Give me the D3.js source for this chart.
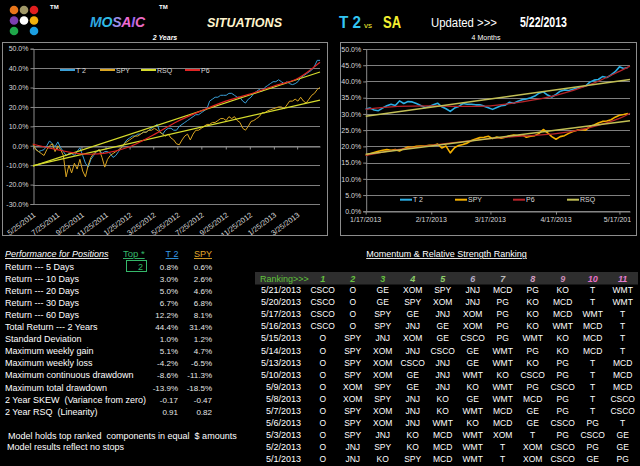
<!DOCTYPE html>
<html>
<head>
<meta charset="utf-8">
<script src="https://cdn.jsdelivr.net/npm/d3@7"></script>
<style>
  body { margin: 0; background: #000; }
  svg { display: block; font-family: "Liberation Sans", Arial, sans-serif; }
  text { white-space: pre; }
</style>
</head>
<body>
<svg id="viz" width="640" height="466"></svg>
<script>
// ---- 2 year chart : weekly readings starting 5/25/2011 (percent)
const start2y = '5/25/2011'
const end2y = '5/22/2013'
const t2Weekly = [0,-1.5,-3,-2.5,-2,0,2.5,1,-0.5,2,
  -1,-3,-5,-4,-4,-5,-3,-1,-5,-9,
  -11,-7,-5,-3,-2,-4,-3,-3,-4,-6,
  -5,-3,-1,1,3,4,5,5,6,6,
  7,7,8,9,10,11,7,6,8,9,
  9,8,8,10,11,12,13,14,15,16,
  16,17,18,19,23,24,25,25,26,26,
  26,27,27,26,25,25,23,22,24,25,
  27,28,29,28,30,31,32,33,33,34,
  33,32,33,32,31.5,32,33,35,36,37,
  38,39,41,44,44]
const spyWeekly = [1,-2,-3,-4,-5,-2,0,1,-3,0,
  -2,-5,-16,-10,-14,-9,-12,-7,-13,-16,
  -10,-6,-4,-3,-2,-6,-11,-7,-5,-4,
  -3,-2,-1,1,2,3,4,5,5,6,
  7,7,8,8,9,8,7,6,5,6,
  4,3,1,0.5,3,5,6,3,6,8,
  8,9,10,11,11,12,12,13,14,14,
  13,15,14,15,13,12,9,8,10,12.5,
  13,14,15,17,17,18,18.5,19,19.5,20,
  20,19,21,23,23,24,23,25,23,22,
  24,26,27,29,30]
const ticks2y = ['5/25/2011','7/25/2011','9/25/2011','11/25/2011','1/25/2012','3/25/2012',
  '5/25/2012','7/25/2012','9/25/2012','11/25/2012','1/25/2013','3/25/2013']
const p6Dates2y = ['5/25/2011','7/25/2011','9/25/2011','11/25/2011','1/25/2012','3/25/2012',
  '5/25/2012','7/25/2012','9/25/2012','11/25/2012','1/25/2013','3/25/2013','5/22/2013']
const p6T2y = [0.8,-2.0,-4.2,-3.8,-0.5,5.5,12.5,18.0,23.0,26.6,30.8,34.5,43.0]
const rsqT2y = [-10.5, 38]
const rsqSpy2y = [-10.2, 23.5]

// ---- 4 month chart : readings every 2 days from 1/17/2013 (percent)
const start4m = '1/17/2013'
const end4m = '5/22/2013'
const t2Days = [31.5,31.8,31.2,31.0,31.8,32.5,33.0,32.6,34.0,33.2,
  33.8,33.7,33.2,32.6,32.0,32.3,32.8,33.3,32.2,31.6,
  30.8,31.8,32.3,33.2,33.0,33.0,32.8,32.8,32.4,31.9,
  31.4,32.0,32.5,32.7,33.6,33.3,33.9,34.4,34.6,35.0,
  35.5,36.4,36.8,35.8,35.2,36.0,37.0,37.4,37.2,37.6,
  38.0,38.3,38.6,39.8,40.4,40.6,41.5,41.2,42.0,43.0,
  44.5,44.0,44.3]
const spyDays = [17.3,17.7,18.1,18.5,18.8,19.0,18.8,19.0,18.6,19.3,
  19.8,19.7,20.0,20.1,20.1,20.3,20.3,20.7,19.5,20.1,
  18.0,19.6,20.3,20.6,21.0,21.8,22.3,22.7,22.8,23.1,
  22.4,22.9,22.5,22.8,23.3,23.5,23.3,23.6,22.8,23.1,
  23.3,24.0,25.2,24.2,23.0,22.2,23.0,23.3,24.0,24.6,
  25.0,25.2,25.0,26.1,26.6,27.2,27.7,27.8,28.2,29.0,
  29.6,29.8,30.1]
const ticks4m = ['1/17/2013','2/17/2013','3/17/2013','4/17/2013','5/17/2013']
const p6Dates4m = ['1/17/2013','2/1/2013','2/17/2013','3/3/2013','3/17/2013','4/1/2013','4/17/2013','5/3/2013','5/17/2013','5/22/2013']
const p6T2m = [31.4,32.3,32.5,32.3,32.5,33.7,35.7,39.0,43.1,44.7]
const p6Spym = [17.2,19.0,20.3,21.4,22.4,23.2,23.9,25.8,28.6,30.2]
const rsqT2m = [29.3, 40.6]
const rsqSpym = [17.6, 27.9]

// ---- performance table
const perfLabels = ['Return --- 5 Days','Return --- 10 Days','Return --- 20 Days','Return --- 30 Days',
  'Return --- 60 Days','Total Return --- 2 Years','Standard Deviation','Maximum weekly gain',
  'Maximum weekly loss','Maximum continuous drawdown','Maximum total drawdown',
  '2 Year SKEW  (Variance from zero)','2 Year RSQ  (Linearity)']
const perfT2 = ['0.8%','3.0%','5.0%','6.7%','12.2%','44.4%','1.0%','5.1%','-4.2%','-8.6%','-13.9%','-0.17','0.91']
const perfSpy = ['0.6%','2.6%','4.6%','6.8%','8.1%','31.4%','1.2%','4.7%','-6.5%','-11.3%','-18.5%','-0.47','0.82']
const notes = ['Model holds top ranked  components in equal  $ amounts', 'Model results reflect no stops']

// ---- ranking table
const rankCols = [1,2,3,4,5,6,7,8,9,10,11]
const rankColColors = ['#66c23f','#66c23f','#66c23f','#8fd16a','#8fd16a','#b3aac4','#bdbdbd','#d39cc0','#c98bb5','#e86fc8','#e67ed2']
const rankDates = ['5/21/2013','5/20/2013','5/17/2013','5/16/2013','5/15/2013','5/14/2013','5/13/2013',
  '5/10/2013','5/9/2013','5/8/2013','5/7/2013','5/6/2013','5/3/2013','5/2/2013','5/1/2013']
const rankings = [
  ['CSCO','O','GE','XOM','SPY','JNJ','MCD','PG','KO','T','WMT'],
  ['CSCO','O','GE','SPY','XOM','JNJ','PG','KO','MCD','T','WMT'],
  ['CSCO','O','SPY','GE','JNJ','XOM','PG','KO','MCD','WMT','T'],
  ['CSCO','O','SPY','JNJ','GE','XOM','PG','KO','WMT','MCD','T'],
  ['O','SPY','JNJ','XOM','GE','CSCO','PG','WMT','KO','MCD','T'],
  ['O','SPY','XOM','JNJ','CSCO','GE','WMT','PG','KO','MCD','T'],
  ['O','SPY','XOM','CSCO','JNJ','GE','WMT','KO','PG','T','MCD'],
  ['O','SPY','XOM','GE','JNJ','WMT','KO','CSCO','PG','T','MCD'],
  ['O','XOM','SPY','GE','JNJ','KO','WMT','PG','CSCO','T','MCD'],
  ['O','XOM','SPY','JNJ','KO','GE','WMT','MCD','PG','T','CSCO'],
  ['O','SPY','XOM','JNJ','KO','WMT','MCD','GE','PG','T','CSCO'],
  ['O','SPY','XOM','JNJ','WMT','KO','MCD','GE','CSCO','PG','T'],
  ['O','SPY','JNJ','KO','MCD','WMT','XOM','T','PG','CSCO','GE'],
  ['O','JNJ','SPY','KO','MCD','WMT','T','XOM','CSCO','PG','GE'],
  ['O','JNJ','KO','SPY','MCD','WMT','T','XOM','CSCO','GE','PG']
]

const parse = d3.timeParse('%m/%d/%Y')
const svg = d3.select('#viz')
svg.append('rect').attr('width', 640).attr('height', 466).attr('fill', '#000')

// ---------------- header
const dotColors = ['#e8751a','#a09868','#e01e1e','#7b3fb0','#ffffff','#f2b10c','#1fa74a',null,'#1c9fe2']
dotColors.forEach((c, i) => {
  if (!c) return
  svg.append('circle').attr('cx', 14 + (i % 3) * 10).attr('cy', 10 + Math.floor(i / 3) * 10.5)
    .attr('r', 4.3).attr('fill', c)
})
svg.append('text').attr('x', 50).attr('y', 9).attr('fill', '#fff').attr('font-size', 6).attr('font-weight', 'bold').text('TM')
svg.append('text').attr('x', 159).attr('y', 9).attr('fill', '#fff').attr('font-size', 6).attr('font-weight', 'bold').text('TM')

const mosaic = svg.append('text').attr('x', 90).attr('y', 27).attr('font-size', 14)
  .attr('font-weight', 'bold').attr('font-style', 'italic')
  .attr('textLength', 55).attr('lengthAdjust', 'spacing')
const mosaicColors = ['#2fa9e1','#2fbde6','#9c8fe8','#f06ad2','#9a66f0','#e96ac4']
'MOSAIC'.split('').forEach((ch, i) => mosaic.append('tspan').attr('fill', mosaicColors[i]).text(ch))

svg.append('text').attr('x', 207).attr('y', 27).attr('font-size', 13).attr('font-weight', 'bold')
  .attr('font-style', 'italic').attr('fill', '#fff4cc').attr('textLength', 75)
  .attr('lengthAdjust', 'spacingAndGlyphs').text('SITUATIONS')
svg.append('text').attr('x', 339).attr('y', 28).attr('font-size', 17).attr('font-weight', 'bold')
  .attr('fill', '#33c6f4').attr('textLength', 22).attr('lengthAdjust', 'spacingAndGlyphs').text('T 2')
svg.append('text').attr('x', 364).attr('y', 28).attr('font-size', 8).attr('fill', '#f4f030').text('vs')
svg.append('text').attr('x', 383).attr('y', 28).attr('font-size', 17).attr('font-weight', 'bold')
  .attr('fill', '#f4f030').attr('textLength', 18).attr('lengthAdjust', 'spacingAndGlyphs').text('SA')
svg.append('text').attr('x', 431).attr('y', 27).attr('font-size', 12).attr('fill', '#fff')
  .attr('textLength', 66).attr('lengthAdjust', 'spacingAndGlyphs').text('Updated >>>')
svg.append('text').attr('x', 520).attr('y', 27).attr('font-size', 14).attr('font-weight', 'bold')
  .attr('fill', '#fff').attr('textLength', 47).attr('lengthAdjust', 'spacingAndGlyphs').text('5/22/2013')
svg.append('text').attr('x', 165).attr('y', 40).attr('text-anchor', 'middle').attr('font-size', 7)
  .attr('font-style', 'italic').attr('font-weight', 'bold').attr('fill', '#fff').text('2 Years')
svg.append('text').attr('x', 486).attr('y', 40).attr('text-anchor', 'middle').attr('font-size', 7)
  .attr('fill', '#fff').text('4 Months')

// ---------------- chart panels
let clipId = 0
function drawPanel(p) {
  const id = 'clip' + (clipId++)
  svg.append('clipPath').attr('id', id).append('rect')
    .attr('x', p.box[0]).attr('y', p.box[1]).attr('width', p.clipRight - p.box[0]).attr('height', p.box[3] - p.box[1])
  const g = svg.append('g').attr('clip-path', `url(#${id})`)
  svg.append('rect').attr('x', p.box[0] + 0.5).attr('y', p.box[1] + 0.5)
    .attr('width', p.box[2] - p.box[0] - 1).attr('height', p.box[3] - p.box[1] - 1)
    .attr('fill', 'none').attr('stroke', '#8c8c8c')

  const x = d3.scaleTime().domain(p.xDomain).range([p.plot[0], p.plot[2]])
  const y = d3.scaleLinear().domain(p.yDomain).range([p.plot[3], p.plot[1]])

  // gridlines
  g.append('g').selectAll('line').data(p.yTicks).join('line')
    .attr('x1', p.plot[0]).attr('x2', p.plot[2])
    .attr('y1', d => Math.round(y(d)) + 0.5).attr('y2', d => Math.round(y(d)) + 0.5)
    .attr('stroke', '#7f7f7f')

  // y axis
  const ya = g.append('g').attr('transform', `translate(${p.plot[0] + 0.5},0)`)
    .call(d3.axisLeft(y).tickValues(p.yTicks).tickFormat(d => d.toFixed(1) + '%').tickSize(3).tickPadding(2))
  ya.select('.domain').attr('stroke', '#8c8c8c')
  ya.selectAll('line').attr('stroke', '#8c8c8c')
  ya.selectAll('text').attr('fill', '#d9d9d9').attr('font-size', 7).attr('font-family', null)

  // x axis (crosses at 0)
  const xa = g.append('g').attr('transform', `translate(0,${Math.round(y(0)) + 0.5})`)
    .call(d3.axisBottom(x).tickValues(p.xTicks).tickFormat('').tickSize(3).tickSizeOuter(0))
  xa.select('.domain').attr('stroke', '#8c8c8c')
  xa.selectAll('line').attr('stroke', '#8c8c8c')

  const labels = g.append('g').selectAll('text').data(p.xTicks).join('text')
    .attr('fill', '#d9d9d9')
    .text(d => d3.timeFormat('%-m/%-d/%Y')(d))
  if (p.rotate) {
    labels.attr('text-anchor', 'end').attr('font-size', 7.5)
      .attr('transform', d => `translate(${x(d) + 3},${p.plot[3] + 12}) rotate(-37)`)
  } else {
    labels.attr('text-anchor', 'middle').attr('font-size', 7).attr('x', d => x(d)).attr('y', p.plot[3] + 11)
  }

  // series
  p.series.forEach(s => {
    g.append('path').datum(s.dates.map((d, i) => [d, s.values[i]]))
      .attr('fill', 'none').attr('stroke', s.color).attr('stroke-width', s.width)
      .attr('stroke-linejoin', 'round')
      .attr('d', d3.line().x(d => x(d[0])).y(d => y(d[1])).curve(s.smooth ? d3.curveCatmullRom : d3.curveLinear))
  })

  // legend
  p.legend.forEach(l => {
    g.append('line').attr('x1', l.x).attr('x2', l.x + l.len).attr('y1', p.legendY).attr('y2', p.legendY)
      .attr('stroke', l.color).attr('stroke-width', 2)
    g.append('text').attr('x', l.x + l.len + 1).attr('y', p.legendY + 2.5).attr('fill', '#d9d9d9')
      .attr('font-size', 7).text(l.name)
  })
}

const weeks2y = t2Weekly.map((v, i) => d3.timeDay.offset(parse(start2y), 7 * i))
const days4m = t2Days.map((v, i) => d3.timeDay.offset(parse(start4m), 2 * i))

drawPanel({
  box: [2, 42, 328, 236], plot: [33, 48.7, 320, 204], clipRight: 328,
  xDomain: [parse(start2y), parse(end2y)], yDomain: [-30, 50],
  yTicks: d3.range(-30, 51, 10), xTicks: ticks2y.map(parse), rotate: true,
  series: [
    { dates: weeks2y, values: t2Weekly, color: '#3a9fd6', width: 1 },
    { dates: weeks2y, values: spyWeekly, color: '#dba622', width: 1 },
    { dates: [parse(start2y), parse(end2y)], values: rsqT2y, color: '#d6dc2c', width: 1.2 },
    { dates: [parse(start2y), parse(end2y)], values: rsqSpy2y, color: '#d6dc2c', width: 1.2 },
    { dates: p6Dates2y.map(parse), values: p6T2y, color: '#e02424', width: 1.2, smooth: true }
  ],
  legendY: 70,
  legend: [
    { name: 'T 2', color: '#3a9fd6', x: 60, len: 15 },
    { name: 'SPY', color: '#dba622', x: 100, len: 15 },
    { name: 'RSQ', color: '#d6dc2c', x: 141, len: 15 },
    { name: 'P6', color: '#e02424', x: 185, len: 15 }
  ]
})

drawPanel({
  box: [340, 42, 637, 236], plot: [365.7, 49, 630, 211.3], clipRight: 631,
  xDomain: [parse(start4m), parse(end4m)], yDomain: [0, 50],
  yTicks: d3.range(0, 51, 5), xTicks: ticks4m.map(parse), rotate: false,
  series: [
    { dates: days4m, values: t2Days, color: '#2aaee4', width: 1.6 },
    { dates: days4m, values: spyDays, color: '#f5b000', width: 1.6 },
    { dates: p6Dates4m.map(parse), values: p6T2m, color: '#b8242a', width: 1.3, smooth: true },
    { dates: p6Dates4m.map(parse), values: p6Spym, color: '#b8242a', width: 1.3, smooth: true },
    { dates: [parse(start4m), parse(end4m)], values: rsqT2m, color: '#c2bf55', width: 1.5 },
    { dates: [parse(start4m), parse(end4m)], values: rsqSpym, color: '#c2bf55', width: 1.5 }
  ],
  legendY: 199.7,
  legend: [
    { name: 'T 2', color: '#2aaee4', x: 400, len: 12 },
    { name: 'SPY', color: '#f5b000', x: 455, len: 12 },
    { name: 'P6', color: '#b8242a', x: 513, len: 12 },
    { name: 'RSQ', color: '#c2bf55', x: 567, len: 12 }
  ]
})

// ---------------- performance table
const rowY = i => 269.5 + i * 12.1
const perf = svg.append('g').attr('font-size', 9)
perf.append('text').attr('x', 5).attr('y', 257).attr('fill', '#fff').attr('font-style', 'italic')
  .style('text-decoration', 'underline').text('Performance for Positions')
perf.append('text').attr('x', 123).attr('y', 257).attr('fill', '#35b86a').attr('font-size', 9.5)
  .style('text-decoration', 'underline').text('Top *')
perf.append('text').attr('x', 172).attr('y', 257).attr('text-anchor', 'middle').attr('fill', '#3399e6')
  .style('text-decoration', 'underline').text('T 2')
perf.append('text').attr('x', 203).attr('y', 257).attr('text-anchor', 'middle').attr('fill', '#e0a82a')
  .style('text-decoration', 'underline').text('SPY')
perf.append('rect').attr('x', 126.5).attr('y', 260.5).attr('width', 20).attr('height', 11)
  .attr('fill', 'none').attr('stroke', '#35b86a')
perf.append('text').attr('x', 143).attr('y', rowY(0)).attr('text-anchor', 'end').attr('fill', '#35b86a').text('2')

perf.selectAll('text.lab').data(perfLabels).join('text').attr('class', 'lab')
  .attr('x', 5).attr('y', (d, i) => rowY(i)).attr('fill', '#fff').text(d => d)
perf.selectAll('text.t2').data(perfT2).join('text').attr('class', 't2')
  .attr('x', 178).attr('y', (d, i) => rowY(i)).attr('text-anchor', 'end').attr('fill', '#e6e6e6')
  .attr('font-size', 8).text(d => d)
perf.selectAll('text.spy').data(perfSpy).join('text').attr('class', 'spy')
  .attr('x', 212).attr('y', (d, i) => rowY(i)).attr('text-anchor', 'end').attr('fill', '#e6e6e6')
  .attr('font-size', 8).text(d => d)
perf.selectAll('text.note').data(notes).join('text').attr('class', 'note')
  .attr('x', (d, i) => i === 0 ? 8 : 7).attr('y', (d, i) => 438.5 + i * 11.8).attr('fill', '#fff').text(d => d)

// ---------------- ranking table
const rank = svg.append('g').attr('font-size', 9)
const colX = k => 292.7 + 30 * k
const rRowY = i => 293.2 + i * 12.07
rank.append('text').attr('x', 446.5).attr('y', 257).attr('text-anchor', 'middle').attr('fill', '#fff')
  .style('text-decoration', 'underline').text('Momentum & Relative Strength Ranking')
rank.append('rect').attr('x', 255).attr('y', 272).attr('width', 383).attr('height', 12.5).attr('fill', '#2e2e2e')
rank.append('text').attr('x', 260).attr('y', 281.5).attr('fill', '#5fc23a').text('Ranking>>>')
rank.selectAll('text.col').data(rankCols).join('text').attr('class', 'col')
  .attr('x', d => colX(d)).attr('y', 281.5).attr('text-anchor', 'middle')
  .attr('font-style', 'italic').attr('font-weight', 'bold').attr('fill', (d, i) => rankColColors[i]).text(d => d)
rank.selectAll('text.date').data(rankDates).join('text').attr('class', 'date')
  .attr('x', 301).attr('y', (d, i) => rRowY(i)).attr('text-anchor', 'end').attr('fill', '#fff').text(d => d)
rankings.forEach((row, i) => {
  rank.append('g').selectAll('text').data(row).join('text')
    .attr('x', (d, k) => colX(k + 1)).attr('y', rRowY(i)).attr('text-anchor', 'middle')
    .attr('fill', '#fff').attr('font-size', 8.5).text(d => d)
})
</script>
</body>
</html>
